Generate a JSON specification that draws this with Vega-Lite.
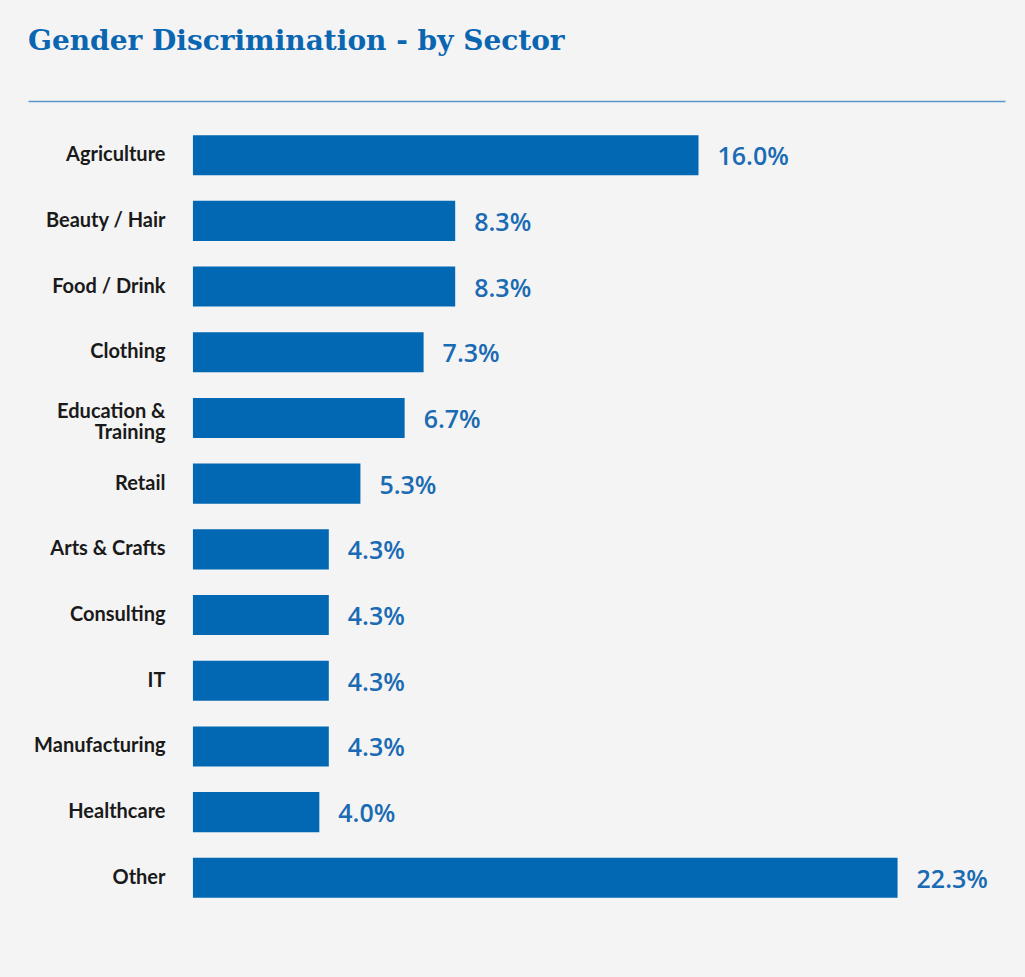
{
  "$schema": "https://vega.github.io/schema/vega-lite/v6.json",
  "autosize": "none",
  "width": 977,
  "height": 789,
  "padding": {"left": 28, "top": 122, "right": 20, "bottom": 66},
  "background": "#f4f4f4",
  "title": {
    "text": "Gender Discrimination - by Sector",
    "anchor": "start",
    "frame": "group",
    "font": "DejaVu Serif",
    "fontSize": 28,
    "fontWeight": "bold",
    "color": "#0b66b2",
    "offset": 45
  },
  "data": {
    "values": [
      {"sector": "Agriculture", "share": 0.160},
      {"sector": "Beauty / Hair", "share": 0.083},
      {"sector": "Food / Drink", "share": 0.083},
      {"sector": "Clothing", "share": 0.073},
      {"sector": "Education & Training", "share": 0.067},
      {"sector": "Retail", "share": 0.053},
      {"sector": "Arts & Crafts", "share": 0.043},
      {"sector": "Consulting", "share": 0.043},
      {"sector": "IT", "share": 0.043},
      {"sector": "Manufacturing", "share": 0.043},
      {"sector": "Healthcare", "share": 0.040},
      {"sector": "Other", "share": 0.223}
    ]
  },
  "encoding": {
    "y": {
      "field": "sector",
      "type": "nominal",
      "sort": null,
      "scale": {"paddingInner": 0.39, "paddingOuter": 0.2},
      "axis": {
        "title": null,
        "domain": false,
        "ticks": false,
        "labelPadding": -137,
        "labelAlign": "right",
        "labelFont": "Lato",
        "labelFontWeight": "bold",
        "labelFontSize": 20,
        "labelColor": "#1a1a1a",
        "labelLineHeight": 21,
        "labelOffset": {"expr": "datum.value == 'Education & Training' ? -6 : 0"},
        "labelExpr": "datum.label == 'Education & Training' ? ['Education &', 'Training'] : datum.label"
      }
    },
    "x": {
      "field": "share",
      "type": "quantitative",
      "scale": {"domain": [-0.0522, 0.257], "nice": false, "zero": false},
      "axis": {
        "orient": "top",
        "title": null,
        "labels": false,
        "ticks": false,
        "grid": false,
        "domain": true,
        "domainColor": "#5b97cb",
        "domainWidth": 1.5,
        "offset": 21
      }
    }
  },
  "layer": [
    {
      "mark": {"type": "bar", "color": "#0268b3"},
      "encoding": {"x2": {"datum": 0}}
    },
    {
      "mark": {
        "type": "text",
        "align": "left",
        "baseline": "middle",
        "dx": 19,
        "dy": 2,
        "font": "Open Sans",
        "fontWeight": 600,
        "fontSize": 25,
        "letterSpacing": 1,
        "color": "#1a6bb3"
      },
      "encoding": {"text": {"field": "share", "type": "quantitative", "format": ".1%"}}
    }
  ],
  "config": {"view": {"stroke": null}}
}
